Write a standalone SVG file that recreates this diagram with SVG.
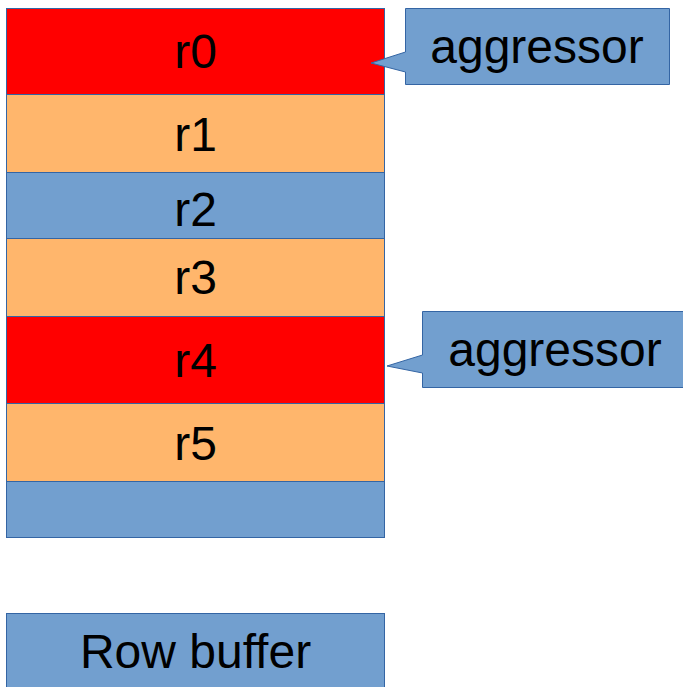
<svg xmlns="http://www.w3.org/2000/svg" width="683" height="687" viewBox="0 0 683 687">
<style>
.s{stroke:#3465a4;stroke-width:1}
.red{fill:#ff0000}
.org{fill:#ffb66c}
.blu{fill:#729fcf}
text{font-family:"Liberation Sans",Arial,sans-serif;font-size:48px;fill:#000;text-anchor:middle}
</style>
<rect x="0" y="0" width="683" height="687" fill="#fff"/>
<g id="r0"><rect class="s red" x="6.5" y="8.5" width="378" height="86"/><text x="195.5" y="68">r0</text></g>
<g id="r1"><rect class="s org" x="6.5" y="94.5" width="378" height="78"/><text x="195.5" y="151">r1</text></g>
<g id="r2"><rect class="s blu" x="6.5" y="172.5" width="378" height="66"/><text x="195.5" y="226">r2</text></g>
<g id="r3"><rect class="s org" x="6.5" y="238.5" width="378" height="78"/><text x="195.5" y="294">r3</text></g>
<g id="r4"><rect class="s red" x="6.5" y="316.5" width="378" height="87"/><text x="195.5" y="377">r4</text></g>
<g id="r5"><rect class="s org" x="6.5" y="403.5" width="378" height="78"/><text x="195.5" y="460">r5</text></g>
<g id="r6"><rect class="s blu" x="6.5" y="481.5" width="378" height="56"/></g>
<g id="rowbuffer"><rect class="s blu" x="6.5" y="613.5" width="378" height="80"/><text x="195.5" y="668">Row buffer</text></g>
<g id="callout1"><path class="s blu" d="M405.5,8.5 H669.5 V84.5 H405.5 V72 L371,63 L405.5,52 Z"/><text x="537" y="63">aggressor</text></g>
<g id="callout2"><path class="s blu" d="M422.5,311.5 H690 V387.5 H422.5 V373 L387,366 L422.5,355 Z"/><text x="555" y="366">aggressor</text></g>
<g id="connectors"></g>
</svg>
